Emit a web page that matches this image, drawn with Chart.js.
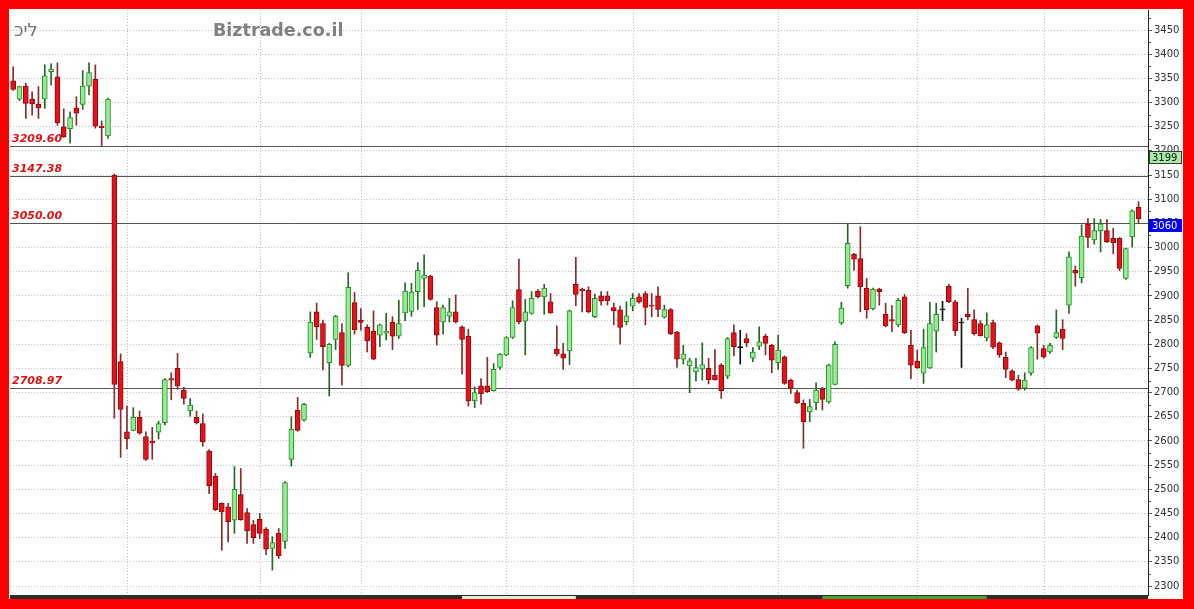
<!DOCTYPE html>
<html>
<head>
<meta charset="utf-8">
<script src="https://cdn.jsdelivr.net/npm/chart.js@4.4.1/dist/chart.umd.min.js"></script>
<style>
html, body { margin: 0; padding: 0; background: #ff0000; }
#wrap { width: 1194px; height: 609px; }
</style>
</head>
<body>
<div id="wrap"><canvas id="chart" width="1194" height="609"></canvas></div>
<script>
// daily candles (one per trading day)
const opens = [
  3345,3307,3334,3307,3297,3307,3364,3353,3250,3246,
  3289,3296,3334,3348,3251,3231,3150,2764,2619,2622,
  2649,2609,2600,2618,2638,2729,2750,2705,2662,2649,
  2636,2579,2527,2471,2464,2436,2489,2452,2427,2438,
  2418,2378,2409,2392,2562,2664,2643,2782,2867,2843,
  2762,2810,2824,2756,2886,2850,2835,2827,2819,2823,
  2846,2817,2865,2868,2909,2936,2941,2876,2846,2858,
  2867,2836,2817,2683,2714,2714,2704,2752,2778,2814,
  2913,2848,2864,2910,2898,2888,2790,2780,2786,2924,
  2914,2912,2857,2900,2900,2876,2871,2847,2879,2898,
  2905,2881,2900,2856,2872,2825,2769,2755,2743,2749,
  2750,2736,2757,2734,2824,2793,2812,2771,2796,2817,
  2798,2762,2774,2726,2700,2678,2660,2679,2707,2681,
  2717,2844,2921,2986,2977,2916,2873,2914,2862,2851,
  2840,2898,2798,2765,2740,2751,2827,2871,2920,2888,
  2844,2862,2851,2843,2813,2845,2803,2773,2745,2727,
  2709,2740,2838,2791,2784,2814,2831,2881,2953,2938,
  3049,3016,3035,3035,3019,3019,2936,3022,3083
];
const highs = [
  3374,3334,3340,3322,3333,3378,3380,3382,3287,3281,
  3312,3366,3382,3378,3262,3309,3152,2780,2672,2669,
  2662,2619,2628,2641,2729,2741,2781,2711,2688,2662,
  2656,2582,2533,2472,2471,2547,2543,2460,2436,2450,
  2421,2402,2419,2516,2650,2690,2678,2867,2885,2850,
  2802,2860,2843,2948,2907,2874,2840,2869,2842,2864,
  2857,2891,2927,2926,2969,2985,2943,2888,2881,2895,
  2902,2838,2831,2712,2729,2773,2760,2781,2816,2890,
  2976,2893,2909,2913,2924,2905,2838,2802,2871,2980,
  2916,2919,2904,2909,2909,2885,2879,2888,2905,2905,
  2909,2905,2919,2881,2874,2827,2798,2771,2771,2803,
  2771,2789,2760,2814,2840,2829,2822,2793,2836,2821,
  2800,2819,2776,2728,2705,2685,2686,2720,2711,2759,
  2805,2887,3050,2988,3043,2936,2916,2916,2885,2880,
  2895,2903,2829,2788,2831,2887,2885,2889,2924,2891,
  2854,2916,2871,2849,2865,2850,2805,2784,2747,2736,
  2741,2795,2840,2798,2802,2871,2851,2991,2962,3047,
  3060,3060,3058,3058,3040,3021,2999,3078,3095
];
const lows = [
  3325,3304,3267,3274,3267,3288,3336,3253,3228,3216,
  3253,3286,3316,3247,3210,3226,2647,2566,2583,2621,
  2614,2560,2562,2604,2633,2685,2707,2676,2651,2635,
  2589,2491,2456,2374,2391,2409,2436,2388,2388,2398,
  2365,2333,2357,2378,2548,2620,2641,2773,2810,2747,
  2693,2789,2716,2753,2821,2829,2784,2768,2795,2809,
  2789,2812,2849,2858,2872,2878,2891,2798,2821,2846,
  2844,2738,2672,2669,2676,2700,2703,2748,2776,2812,
  2842,2778,2862,2896,2862,2864,2776,2748,2758,2880,
  2867,2865,2855,2881,2881,2840,2800,2840,2869,2885,
  2840,2857,2857,2854,2820,2752,2759,2700,2724,2726,
  2718,2726,2688,2729,2776,2759,2795,2764,2789,2778,
  2741,2748,2717,2698,2677,2585,2640,2664,2664,2678,
  2716,2841,2916,2953,2867,2854,2871,2881,2836,2826,
  2836,2822,2729,2750,2719,2750,2784,2849,2886,2818,
  2752,2851,2819,2817,2807,2791,2773,2731,2724,2705,
  2705,2736,2769,2771,2781,2812,2789,2864,2920,2927,
  3000,3007,2991,3010,2987,2952,2934,3001,3051
];
const closes = [
  3327,3333,3298,3297,3289,3355,3369,3258,3229,3269,
  3278,3334,3362,3251,3248,3307,2717,2665,2605,2649,
  2616,2562,2596,2636,2727,2726,2714,2688,2674,2638,
  2598,2507,2458,2453,2433,2500,2437,2414,2400,2409,
  2376,2390,2362,2514,2624,2622,2676,2846,2836,2795,
  2800,2858,2756,2918,2830,2845,2807,2769,2840,2827,
  2817,2843,2910,2908,2953,2943,2893,2819,2876,2867,
  2846,2810,2683,2700,2698,2702,2748,2779,2814,2876,
  2846,2867,2895,2898,2916,2865,2780,2771,2869,2903,
  2911,2867,2895,2889,2890,2869,2835,2859,2895,2887,
  2876,2879,2872,2872,2822,2769,2780,2766,2752,2758,
  2727,2727,2704,2812,2795,2793,2803,2784,2805,2802,
  2767,2788,2719,2709,2679,2640,2671,2705,2686,2757,
  2800,2875,3009,2976,2919,2871,2914,2909,2838,2848,
  2891,2824,2757,2751,2793,2843,2862,2871,2888,2828,
  2844,2857,2822,2818,2840,2794,2778,2748,2726,2707,
  2726,2793,2823,2774,2798,2824,2812,2981,2947,3024,
  3021,3035,3049,3012,3010,2957,2998,3076,3060
];

const yTicks = [2300,2350,2400,2450,2500,2550,2600,2650,2700,2750,2800,2850,
                2900,2950,3000,3050,3100,3150,3200,3250,3300,3350,3400,3450];
const monthStarts = [18, 39, 55, 78, 98, 121, 143, 163];   // candle index of each month's first day
const refLevels = [3209.60, 3147.38, 3050.00, 2708.97];
const refLabels = ['3209.60', '3147.38', '3050.00', '2708.97'];
const lastPrice = 3060;
const prevMark = 3199;
const navBands = [[71, 89, '#d6f4d6'], [128, 154, '#3aa83a']];

// one empty slot after the last day
const labels = opens.concat([null]).map((_, i) => String(i + 1));

const UP = '#90ee90', UP_EDGE = '#2b8a2b', UP_WICK = '#1e6a1e';
const DOWN = '#e8101a', DOWN_EDGE = '#8c0a0a', DOWN_WICK = '#8a2a2a';
const FLAT = '#111111';

function tone(i, up, down) {
    if (closes[i] > opens[i]) return up;
    if (closes[i] < opens[i]) return down;
    return FLAT;
}

const decor = {
    id: 'decor',
    beforeDraw(chart) {
        const ctx = chart.ctx;
        ctx.save();
        ctx.fillStyle = '#ffffff';
        ctx.fillRect(0, 0, chart.width, chart.height);
        ctx.restore();
    },
    beforeDatasetsDraw(chart) {
        const { ctx, chartArea: a, scales: { x, y } } = chart;
        ctx.save();
        // month separators
        ctx.strokeStyle = '#bdbdbd';
        ctx.lineWidth = 1;
        ctx.setLineDash([1, 2]);
        monthStarts.forEach(i => {
            const px = Math.round(x.getPixelForValue(i)) + 0.5;
            ctx.beginPath();
            ctx.moveTo(px, a.top);
            ctx.lineTo(px, a.bottom);
            ctx.stroke();
        });
        // support / resistance lines
        ctx.setLineDash([]);
        ctx.strokeStyle = '#555555';
        refLevels.forEach(v => {
            const py = Math.round(y.getPixelForValue(v)) + 0.5;
            ctx.beginPath();
            ctx.moveTo(a.left, py);
            ctx.lineTo(a.right, py);
            ctx.stroke();
        });
        ctx.restore();
    },
    afterDraw(chart) {
        const { ctx, chartArea: a, scales: { x, y } } = chart;
        ctx.save();

        // minor ticks on the price axis
        ctx.strokeStyle = '#555555';
        ctx.lineWidth = 1;
        for (let k = 0; k < yTicks.length; k++) {
            const py = Math.round(y.getPixelForValue(yTicks[k] + 25)) + 0.5;
            ctx.beginPath();
            ctx.moveTo(a.right, py);
            ctx.lineTo(a.right + 3, py);
            ctx.stroke();
        }

        // level labels
        ctx.fillStyle = '#e01010';
        ctx.font = 'italic bold 11px "DejaVu Sans"';
        ctx.textAlign = 'left';
        ctx.textBaseline = 'alphabetic';
        refLevels.forEach((v, k) => {
            ctx.fillText(refLabels[k], a.left + 2, Math.round(y.getPixelForValue(v)) - 4);
        });

        // header
        ctx.fillStyle = '#808080';
        ctx.font = 'bold 17.5px "DejaVu Sans"';
        ctx.textBaseline = 'middle';
        ctx.fillText('Biztrade.co.il', 213, 31);
        ctx.fillStyle = '#707070';
        ctx.font = '18px "DejaVu Sans"';
        // the site prints the name in visual (left-to-right) order
        ctx.fillText('\u202Dכיל\u202C', 14, 31);

        // price boxes on the axis
        const box = (v, bg, fg, edge) => {
            const top = Math.round(y.getPixelForValue(v));
            ctx.fillStyle = bg;
            ctx.fillRect(a.right + 1, top, 33, 13);
            if (edge) {
                ctx.strokeStyle = edge;
                ctx.strokeRect(a.right + 1.5, top + 0.5, 32, 12);
            }
            ctx.fillStyle = fg;
            ctx.font = '10px "DejaVu Sans"';
            ctx.textAlign = 'left';
            ctx.textBaseline = 'middle';
            ctx.fillText(String(v), a.right + 4, top + 7);
        };
        box(prevMark, '#a8eca8', '#1a1a1a', '#3a3a3a');
        box(lastPrice, '#0000ff', '#ffffff', null);

        // navigator strip under the plot
        ctx.fillStyle = '#2e2e2e';
        ctx.fillRect(a.left, a.bottom, a.right - a.left, 4);
        navBands.forEach(([i0, i1, c]) => {
            ctx.fillStyle = c;
            const x0 = x.getPixelForValue(i0), x1 = x.getPixelForValue(i1);
            ctx.fillRect(x0, a.bottom + 1, x1 - x0, 3);
        });

        // red frame
        ctx.fillStyle = '#ff0000';
        ctx.fillRect(0, 0, chart.width, 9);
        ctx.fillRect(0, 0, 9, chart.height);
        ctx.fillRect(1183, 0, chart.width - 1183, chart.height);
        ctx.fillRect(0, 599, chart.width, chart.height - 599);
        ctx.restore();
    }
};

new Chart(document.getElementById('chart'), {
    type: 'bar',
    data: {
        labels: labels,
        datasets: [
            {
                label: 'wick',
                data: lows.map((l, i) => [l, highs[i]]),
                backgroundColor: lows.map((_, i) => tone(i, UP_WICK, DOWN_WICK)),
                barThickness: 1,
                borderWidth: 0,
                grouped: false,
                order: 2
            },
            {
                label: 'body',
                data: opens.map((o, i) => [o, closes[i]]),
                backgroundColor: opens.map((_, i) => tone(i, UP, DOWN)),
                borderColor: opens.map((_, i) => tone(i, UP_EDGE, DOWN_EDGE)),
                borderWidth: 1,
                borderSkipped: false,
                barThickness: 5,
                minBarLength: 1,
                grouped: false,
                order: 1
            }
        ]
    },
    options: {
        responsive: false,
        animation: false,
        devicePixelRatio: 1,
        layout: { padding: { left: 10, top: 10, right: 0, bottom: 14 } },
        plugins: { legend: { display: false }, tooltip: { enabled: false } },
        scales: {
            x: { type: 'category', display: false, offset: true },
            y: {
                position: 'right',
                min: 2281.4,
                max: 3491.4,
                afterBuildTicks: s => { s.ticks = yTicks.map(v => ({ value: v })); },
                afterFit: s => { s.width = 46; },
                grid: { color: '#c4c4c4', lineWidth: 1, drawTicks: true, tickLength: 4, tickColor: '#555555' },
                border: { display: true, color: '#222222', width: 1, dash: [1, 2] },
                ticks: {
                    padding: 2,
                    color: '#333333',
                    font: { family: 'DejaVu Sans', size: 10 },
                    callback: v => String(v)
                }
            }
        }
    },
    plugins: [decor]
});
</script>
</body>
</html>
